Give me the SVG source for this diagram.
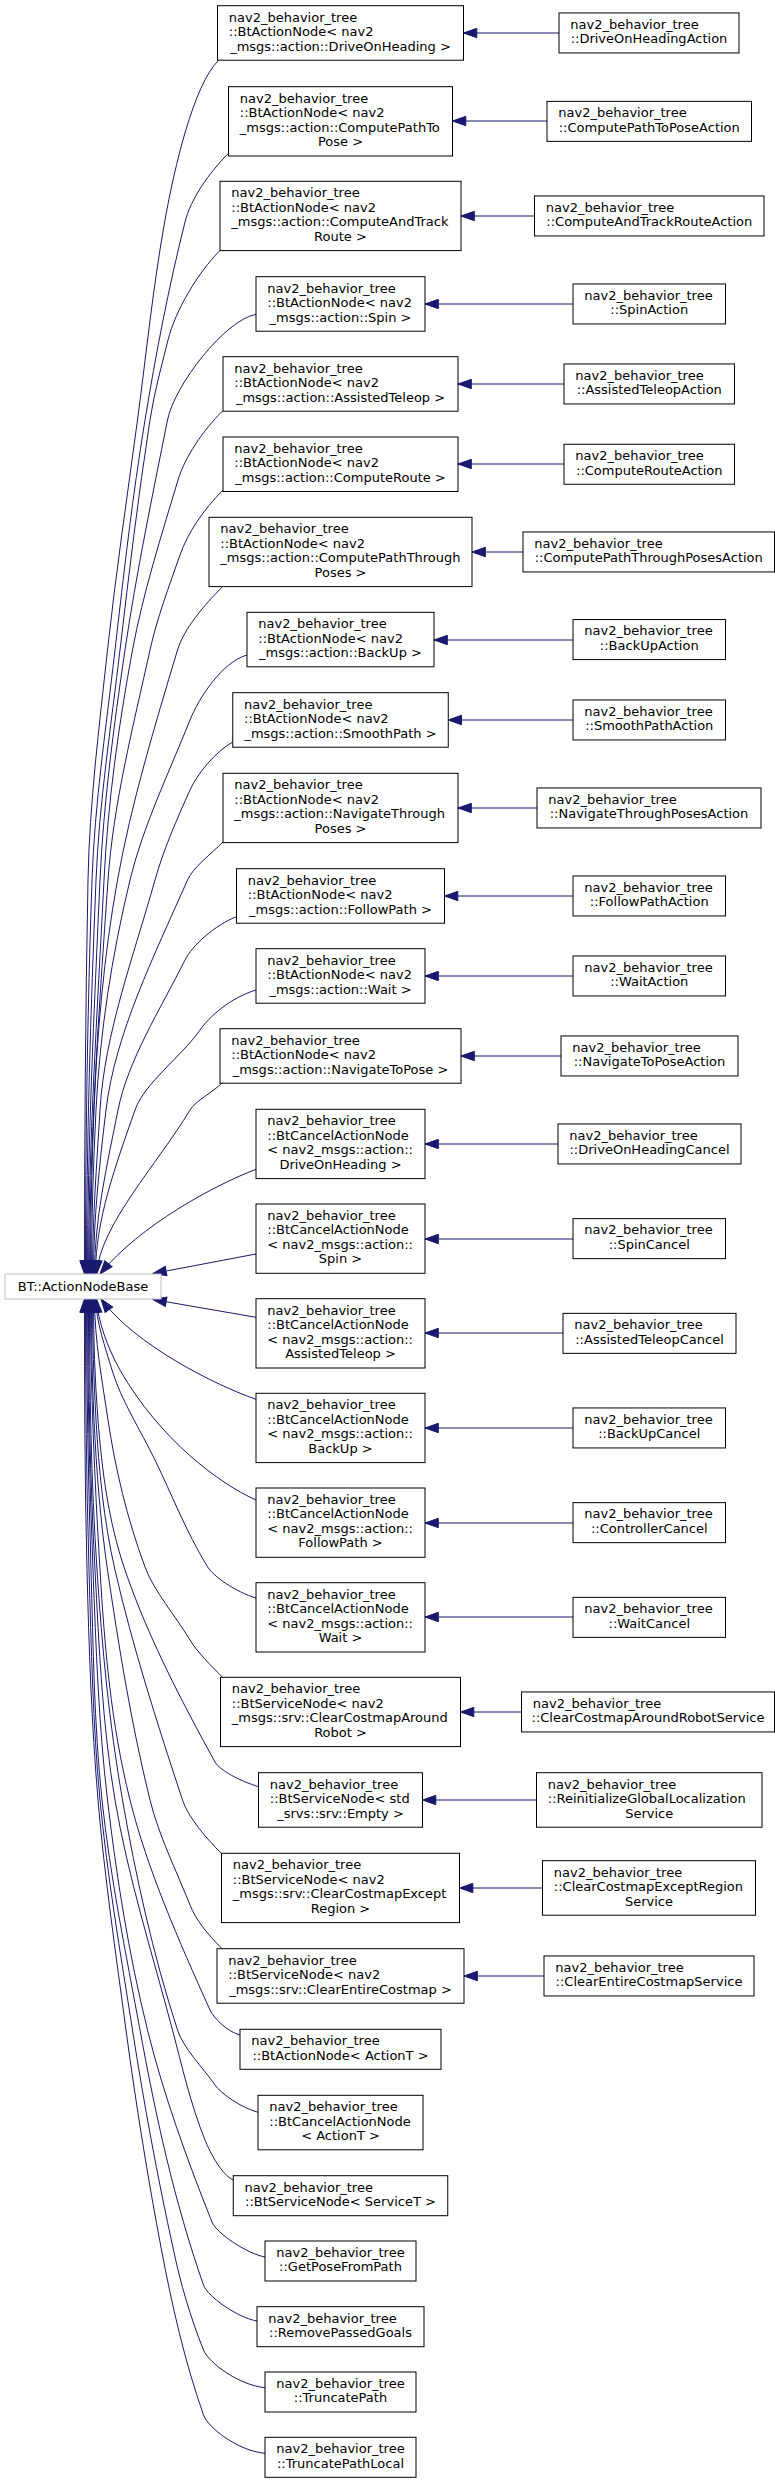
<svg xmlns="http://www.w3.org/2000/svg" width="775" height="2483" viewBox="0 0 775 2483">
<style>
.n rect{fill:#fff;stroke:#000;stroke-width:1}
.b rect{fill:#fff;stroke:#bfbfbf;stroke-width:1}
text{font-family:"DejaVu Sans","Liberation Sans",sans-serif;font-size:13px;fill:#000}
.c{text-anchor:middle}
#edges path{fill:none;stroke:#191970;stroke-width:1;marker-end:url(#ah)}
</style>
<defs>
<marker id="ah" markerUnits="userSpaceOnUse" orient="auto" markerWidth="14" markerHeight="10" refX="0" refY="0" overflow="visible">
<path d="M0,0 L-13.3,-4.7 L-13.3,4.7 Z" fill="#191970" stroke="#191970" stroke-width="1"/>
</marker>
</defs>
<rect width="775" height="2483" fill="#fff"/>
<g id="edges">
<path d="M559,33 L463.5,33"/>
<path d="M547,121 L452.5,121"/>
<path d="M534.5,216 L461,216"/>
<path d="M573,304 L425,304"/>
<path d="M564,384 L458,384"/>
<path d="M564,464 L458,464"/>
<path d="M523,552 L472,552"/>
<path d="M573,640 L434,640"/>
<path d="M573,720 L448.25,720"/>
<path d="M537,808 L458,808"/>
<path d="M573,896 L444.5,896"/>
<path d="M573,976 L425,976"/>
<path d="M561,1056 L461,1056"/>
<path d="M558,1144 L425,1144"/>
<path d="M573,1239 L425,1239"/>
<path d="M563,1333 L425,1333"/>
<path d="M573,1428 L425,1428"/>
<path d="M573,1523 L425,1523"/>
<path d="M573,1617 L425,1617"/>
<path d="M521.5,1712 L460.5,1712"/>
<path d="M536.5,1800 L422.5,1800"/>
<path d="M542.5,1888 L459.5,1888"/>
<path d="M544,1976 L464,1976"/>
<path d="M218.5,60.3 C193.5,85.3 174.6,166.8 165,220 C153,286.7 146.4,353.3 137.5,420 C127.2,496.7 115.8,573.3 107.5,650 C99.2,726.7 89.5,803.3 88,880 C85.4,1011.3 84.5,1142.7 84.5,1274"/>
<path d="M228.5,153.3 C208.5,173.3 190.7,199.1 185,222 C168.5,288 155.8,354 145,420 C132.4,496.7 123.8,573.3 115,650 C106.2,726.7 94.7,803.3 92,880 C87.4,1011.3 85.5,1142.7 85.5,1274"/>
<path d="M220,250.5 C198,272.5 175.5,310.2 168,340 C161.3,366.7 154.1,393.3 150,420 C138.1,496.7 129,573.3 120,650 C111,726.7 99.1,803.3 96,880 C90.7,1011.3 86.5,1142.7 86.5,1274"/>
<path d="M256,314.3 C225,320 174.5,385 167.5,420 C152.2,496.7 136.3,573.3 125,650 C113.7,726.7 103.5,803.3 100,880 C94.1,1011.3 87.5,1142.7 87.5,1274"/>
<path d="M223,410.5 C203,430.5 185,456.8 178,480 C161,536.7 143,593.3 132.5,650 C118.3,726.7 107.8,803.3 104,880 C97.4,1011.3 88.5,1142.7 88.5,1274"/>
<path d="M223,490 C203,510 187.6,533.3 180,555 C168.9,586.7 157,618.3 150,650 C133.1,726.7 113.4,803.3 108,880 C98.8,1011.3 89.5,1142.7 89.5,1274"/>
<path d="M222.5,586.7 C204.5,604.7 183.8,628.9 177.5,650 C154.5,726.7 131.3,803.3 117.5,880 C103.7,956.7 97.1,1033.3 94,1110 C91.8,1164.7 90.5,1219.3 90.5,1274"/>
<path d="M247,655 C222,662 198.7,698.3 190,720 C168.7,773.3 142.8,826.7 130,880 C111.6,956.7 99.8,1033.3 96,1110 C93.3,1164.7 91.5,1219.3 91.5,1274"/>
<path d="M232.75,742 C215,752 197.2,774 190,790 C176.5,820 163.4,850 155,880 C133.5,956.7 104.6,1033.3 100,1110 C96.7,1164.7 92.5,1219.3 92.5,1274"/>
<path d="M223,842 C211,854 193.1,867.3 187.5,880 C153.8,956.7 115.2,1033.3 106,1110 C99.4,1164.7 93.5,1219.3 93.5,1274"/>
<path d="M236.5,916.7 C215,925 192.2,945.6 185,960 C160,1010 128,1060 118,1110 C107.1,1164.7 94.5,1219.3 94.5,1274"/>
<path d="M256,990 C230,998 209.3,1016.7 200,1030 C181.3,1056.7 144.3,1083.3 135,1110 C115.9,1164.7 95.5,1219.3 95.5,1274"/>
<path d="M222,1083 C213,1092 195.4,1101 190,1110 C157.2,1164.7 100,1225 96.5,1274"/>
<path d="M256,1169.3 C215,1185 140,1225 100,1274"/>
<path d="M256,1254 L153,1273.5"/>
<path d="M256,1317.3 L153,1299.5"/>
<path d="M256,1399.3 C215,1385 135,1345 101,1299"/>
<path d="M256,1500 C220,1484 160,1440 120,1370 C108,1349 97.5,1320 96.5,1299"/>
<path d="M256,1598 C236,1592 213.4,1576.7 207,1566 C185.8,1530.7 172.1,1495.3 155,1460 C140.4,1430 121,1400 112,1370 C104.9,1346.3 96.5,1322.7 95.5,1299"/>
<path d="M222.5,1677.3 C210.5,1665 197.4,1652.3 190,1640 C175.4,1615.7 154,1591.3 145,1567 C126.9,1518 115.4,1469 108,1420 C102,1379.7 94.5,1339.7 94.5,1299"/>
<path d="M258.5,1786.7 C240,1781 219.5,1770.2 215,1762 C179.8,1698 146.8,1634 125,1570 C108,1520 102,1470 98,1420 C94.8,1379.7 93.5,1339.7 93.5,1299"/>
<path d="M221.5,1853.5 C206.5,1838.5 188.4,1817.8 182.5,1800 C157.2,1723.3 132.6,1646.7 115,1570 C103.5,1520 99,1470 96,1420 C93.6,1379.7 92.5,1339.7 92.5,1299"/>
<path d="M222,1948.7 C207,1933.7 195.8,1919.6 190,1905 C176,1870 158.6,1835 150,1800 C131.1,1723.3 118.8,1646.7 107.5,1570 C100.2,1520 96.5,1470 94,1420 C92,1379.7 91.5,1339.7 91.5,1299"/>
<path d="M240,2035 C228,2032 213.7,2018.3 210,2010 C178.5,1940 147.5,1870 130,1800 C110.8,1723.3 104.6,1646.7 100,1570 C94.6,1479.7 90.5,1389.3 90.5,1299"/>
<path d="M258,2112.3 C242,2108 221.4,2094.1 215,2085 C202.2,2066.7 183.5,2048.3 177.5,2030 C152.6,1953.3 135.9,1876.7 122.5,1800 C109.1,1723.3 102,1646.7 97,1570 C91,1479.7 89.5,1389.3 89.5,1299"/>
<path d="M233.25,2180 C222,2175 210.3,2153.3 205,2140 C190.3,2103.3 182.2,2066.7 172.5,2030 C152.2,1953.3 127.9,1876.7 115,1800 C102.1,1723.3 99.2,1646.7 95,1570 C90,1479.7 88.5,1389.3 88.5,1299"/>
<path d="M265,2257 C248,2254 216.7,2233.7 212,2222 C186.4,2158 163.4,2094 147.5,2030 C128.5,1953.3 116.5,1876.7 107.5,1800 C98.5,1723.3 96,1646.7 93,1570 C89.4,1479.7 87.5,1389.3 87.5,1299"/>
<path d="M257,2321 C238.5,2318 207.7,2297 203.5,2285 C173.75,2200 155.6,2115 140,2030 C125.9,1953.3 110.1,1876.7 102,1800 C93.9,1723.3 93.3,1646.7 91,1570 C88.3,1479.7 86.5,1389.3 86.5,1299"/>
<path d="M265,2387.7 C238.5,2385 208.5,2362.6 203.5,2350 C190.2,2316.7 180.5,2283.3 173.5,2250 C157.4,2176.7 143.9,2103.3 132.5,2030 C120.5,1953.3 107.3,1876.7 100,1800 C92.7,1723.3 91.3,1646.7 89,1570 C86.3,1479.7 85.5,1389.3 85.5,1299"/>
<path d="M265,2453.3 C238.5,2451 208,2427.8 203.5,2415 C184.2,2360 172,2305 161.5,2250 C147.6,2176.7 135.8,2103.3 126,2030 C115.8,1953.3 104.5,1876.7 98,1800 C91.5,1723.3 88.9,1646.7 87,1570 C84.7,1479.7 84.5,1389.3 84.5,1299"/>
</g>
<g id="base" class="b"><rect x="5" y="1274" width="156" height="25"/><text class="c" x="83" y="1290.8">BT::ActionNodeBase</text></g>
<g id="a1" class="n"><rect x="217.5" y="5.7" width="246" height="54.5"/><text x="228.8" y="21.5">nav2_behavior_tree</text><text x="228.8" y="36">::BtActionNode&lt; nav2</text><text class="c" x="340.5" y="50.5">_msgs::action::DriveOnHeading &gt;</text></g>
<g id="a2" class="n"><rect x="228.5" y="86.7" width="224" height="69.3"/><text x="239.8" y="102.5">nav2_behavior_tree</text><text x="239.8" y="117">::BtActionNode&lt; nav2</text><text x="239.8" y="131.5">_msgs::action::ComputePathTo</text><text class="c" x="340.5" y="146">Pose &gt;</text></g>
<g id="a3" class="n"><rect x="220" y="181.3" width="241" height="69.3"/><text x="231.3" y="197.1">nav2_behavior_tree</text><text x="231.3" y="211.6">::BtActionNode&lt; nav2</text><text x="231.3" y="226.1">_msgs::action::ComputeAndTrack</text><text class="c" x="340.5" y="240.6">Route &gt;</text></g>
<g id="a4" class="n"><rect x="256" y="276.7" width="169" height="54.5"/><text x="267.3" y="292.5">nav2_behavior_tree</text><text x="267.3" y="307">::BtActionNode&lt; nav2</text><text class="c" x="340.5" y="321.5">_msgs::action::Spin &gt;</text></g>
<g id="a5" class="n"><rect x="223" y="356.7" width="235" height="54.5"/><text x="234.3" y="372.5">nav2_behavior_tree</text><text x="234.3" y="387">::BtActionNode&lt; nav2</text><text class="c" x="340.5" y="401.5">_msgs::action::AssistedTeleop &gt;</text></g>
<g id="a6" class="n"><rect x="223" y="437" width="235" height="54.5"/><text x="234.3" y="452.8">nav2_behavior_tree</text><text x="234.3" y="467.3">::BtActionNode&lt; nav2</text><text class="c" x="340.5" y="481.8">_msgs::action::ComputeRoute &gt;</text></g>
<g id="a7" class="n"><rect x="209" y="517.3" width="263" height="69.3"/><text x="220.3" y="533.1">nav2_behavior_tree</text><text x="220.3" y="547.6">::BtActionNode&lt; nav2</text><text x="220.3" y="562.1">_msgs::action::ComputePathThrough</text><text class="c" x="340.5" y="576.6">Poses &gt;</text></g>
<g id="a8" class="n"><rect x="247" y="612.3" width="187" height="54.5"/><text x="258.3" y="628.1">nav2_behavior_tree</text><text x="258.3" y="642.6">::BtActionNode&lt; nav2</text><text class="c" x="340.5" y="657.1">_msgs::action::BackUp &gt;</text></g>
<g id="a9" class="n"><rect x="232.75" y="692.7" width="215.5" height="54.5"/><text x="244" y="708.5">nav2_behavior_tree</text><text x="244" y="723">::BtActionNode&lt; nav2</text><text class="c" x="340.5" y="737.5">_msgs::action::SmoothPath &gt;</text></g>
<g id="a10" class="n"><rect x="223" y="773.3" width="235" height="69.3"/><text x="234.3" y="789.1">nav2_behavior_tree</text><text x="234.3" y="803.6">::BtActionNode&lt; nav2</text><text x="234.3" y="818.1">_msgs::action::NavigateThrough</text><text class="c" x="340.5" y="832.6">Poses &gt;</text></g>
<g id="a11" class="n"><rect x="236.5" y="868.7" width="208" height="54.5"/><text x="247.8" y="884.5">nav2_behavior_tree</text><text x="247.8" y="899">::BtActionNode&lt; nav2</text><text class="c" x="340.5" y="913.5">_msgs::action::FollowPath &gt;</text></g>
<g id="a12" class="n"><rect x="256" y="948.7" width="169" height="54.5"/><text x="267.3" y="964.5">nav2_behavior_tree</text><text x="267.3" y="979">::BtActionNode&lt; nav2</text><text class="c" x="340.5" y="993.5">_msgs::action::Wait &gt;</text></g>
<g id="a13" class="n"><rect x="220" y="1028.7" width="241" height="54.5"/><text x="231.3" y="1044.5">nav2_behavior_tree</text><text x="231.3" y="1059">::BtActionNode&lt; nav2</text><text class="c" x="340.5" y="1073.5">_msgs::action::NavigateToPose &gt;</text></g>
<g id="a14" class="n"><rect x="256" y="1109.3" width="169" height="69.3"/><text x="267.3" y="1125.1">nav2_behavior_tree</text><text x="267.3" y="1139.6">::BtCancelActionNode</text><text x="267.3" y="1154.1">&lt; nav2_msgs::action::</text><text class="c" x="340.5" y="1168.6">DriveOnHeading &gt;</text></g>
<g id="a15" class="n"><rect x="256" y="1204" width="169" height="69.3"/><text x="267.3" y="1219.8">nav2_behavior_tree</text><text x="267.3" y="1234.3">::BtCancelActionNode</text><text x="267.3" y="1248.8">&lt; nav2_msgs::action::</text><text class="c" x="340.5" y="1263.3">Spin &gt;</text></g>
<g id="a16" class="n"><rect x="256" y="1298.7" width="169" height="69.3"/><text x="267.3" y="1314.5">nav2_behavior_tree</text><text x="267.3" y="1329">::BtCancelActionNode</text><text x="267.3" y="1343.5">&lt; nav2_msgs::action::</text><text class="c" x="340.5" y="1358">AssistedTeleop &gt;</text></g>
<g id="a17" class="n"><rect x="256" y="1393.3" width="169" height="69.3"/><text x="267.3" y="1409.1">nav2_behavior_tree</text><text x="267.3" y="1423.6">::BtCancelActionNode</text><text x="267.3" y="1438.1">&lt; nav2_msgs::action::</text><text class="c" x="340.5" y="1452.6">BackUp &gt;</text></g>
<g id="a18" class="n"><rect x="256" y="1488" width="169" height="69.3"/><text x="267.3" y="1503.8">nav2_behavior_tree</text><text x="267.3" y="1518.3">::BtCancelActionNode</text><text x="267.3" y="1532.8">&lt; nav2_msgs::action::</text><text class="c" x="340.5" y="1547.3">FollowPath &gt;</text></g>
<g id="a19" class="n"><rect x="256" y="1582.7" width="169" height="69.3"/><text x="267.3" y="1598.5">nav2_behavior_tree</text><text x="267.3" y="1613">::BtCancelActionNode</text><text x="267.3" y="1627.5">&lt; nav2_msgs::action::</text><text class="c" x="340.5" y="1642">Wait &gt;</text></g>
<g id="a20" class="n"><rect x="220.5" y="1677.3" width="240" height="69.3"/><text x="231.8" y="1693.1">nav2_behavior_tree</text><text x="231.8" y="1707.6">::BtServiceNode&lt; nav2</text><text x="231.8" y="1722.1">_msgs::srv::ClearCostmapAround</text><text class="c" x="340.5" y="1736.6">Robot &gt;</text></g>
<g id="a21" class="n"><rect x="258.5" y="1772.7" width="164" height="54.5"/><text x="269.8" y="1788.5">nav2_behavior_tree</text><text x="269.8" y="1803">::BtServiceNode&lt; std</text><text class="c" x="340.5" y="1817.5">_srvs::srv::Empty &gt;</text></g>
<g id="a22" class="n"><rect x="221.5" y="1853.3" width="238" height="69.3"/><text x="232.8" y="1869.1">nav2_behavior_tree</text><text x="232.8" y="1883.6">::BtServiceNode&lt; nav2</text><text x="232.8" y="1898.1">_msgs::srv::ClearCostmapExcept</text><text class="c" x="340.5" y="1912.6">Region &gt;</text></g>
<g id="a23" class="n"><rect x="217" y="1948.7" width="247" height="54.5"/><text x="228.3" y="1964.5">nav2_behavior_tree</text><text x="228.3" y="1979">::BtServiceNode&lt; nav2</text><text class="c" x="340.5" y="1993.5">_msgs::srv::ClearEntireCostmap &gt;</text></g>
<g id="a24" class="n"><rect x="240" y="2029.3" width="201" height="40"/><text x="251.3" y="2045.1">nav2_behavior_tree</text><text class="c" x="340.5" y="2059.6">::BtActionNode&lt; ActionT &gt;</text></g>
<g id="a25" class="n"><rect x="258" y="2095.3" width="165" height="54.5"/><text x="269.3" y="2111.1">nav2_behavior_tree</text><text x="269.3" y="2125.6">::BtCancelActionNode</text><text class="c" x="340.5" y="2140.1">&lt; ActionT &gt;</text></g>
<g id="a26" class="n"><rect x="233.25" y="2175.7" width="214.5" height="40"/><text x="244.5" y="2191.5">nav2_behavior_tree</text><text class="c" x="340.5" y="2206">::BtServiceNode&lt; ServiceT &gt;</text></g>
<g id="a27" class="n"><rect x="265" y="2241" width="151" height="40"/><text x="276.3" y="2256.8">nav2_behavior_tree</text><text class="c" x="340.5" y="2271.3">::GetPoseFromPath</text></g>
<g id="a28" class="n"><rect x="257" y="2306.7" width="167" height="40"/><text x="268.3" y="2322.5">nav2_behavior_tree</text><text class="c" x="340.5" y="2337">::RemovePassedGoals</text></g>
<g id="a29" class="n"><rect x="265" y="2372" width="151" height="40"/><text x="276.3" y="2387.8">nav2_behavior_tree</text><text class="c" x="340.5" y="2402.3">::TruncatePath</text></g>
<g id="a30" class="n"><rect x="265" y="2437.3" width="151" height="40"/><text x="276.3" y="2453.1">nav2_behavior_tree</text><text class="c" x="340.5" y="2467.6">::TruncatePathLocal</text></g>
<g id="r1" class="n"><rect x="559" y="12.95" width="180" height="40"/><text x="570.3" y="28.75">nav2_behavior_tree</text><text class="c" x="649" y="43.25">::DriveOnHeadingAction</text></g>
<g id="r2" class="n"><rect x="547" y="101.35" width="204.5" height="40"/><text x="558.3" y="117.15">nav2_behavior_tree</text><text class="c" x="649.25" y="131.65">::ComputePathToPoseAction</text></g>
<g id="r3" class="n"><rect x="534.5" y="195.95" width="229.5" height="40"/><text x="545.8" y="211.75">nav2_behavior_tree</text><text class="c" x="649.25" y="226.25">::ComputeAndTrackRouteAction</text></g>
<g id="r4" class="n"><rect x="573" y="283.95" width="152.5" height="40"/><text x="584.3" y="299.75">nav2_behavior_tree</text><text class="c" x="649.25" y="314.25">::SpinAction</text></g>
<g id="r5" class="n"><rect x="564" y="363.95" width="170.5" height="40"/><text x="575.3" y="379.75">nav2_behavior_tree</text><text class="c" x="649.25" y="394.25">::AssistedTeleopAction</text></g>
<g id="r6" class="n"><rect x="564" y="444.25" width="170.5" height="40"/><text x="575.3" y="460.05">nav2_behavior_tree</text><text class="c" x="649.25" y="474.55">::ComputeRouteAction</text></g>
<g id="r7" class="n"><rect x="523" y="531.95" width="251.5" height="40"/><text x="534.3" y="547.75">nav2_behavior_tree</text><text class="c" x="648.75" y="562.25">::ComputePathThroughPosesAction</text></g>
<g id="r8" class="n"><rect x="573" y="619.55" width="152.5" height="40"/><text x="584.3" y="635.35">nav2_behavior_tree</text><text class="c" x="649.25" y="649.85">::BackUpAction</text></g>
<g id="r9" class="n"><rect x="573" y="699.95" width="152.5" height="40"/><text x="584.3" y="715.75">nav2_behavior_tree</text><text class="c" x="649.25" y="730.25">::SmoothPathAction</text></g>
<g id="r10" class="n"><rect x="537" y="787.95" width="224" height="40"/><text x="548.3" y="803.75">nav2_behavior_tree</text><text class="c" x="649" y="818.25">::NavigateThroughPosesAction</text></g>
<g id="r11" class="n"><rect x="573" y="875.95" width="152.5" height="40"/><text x="584.3" y="891.75">nav2_behavior_tree</text><text class="c" x="649.25" y="906.25">::FollowPathAction</text></g>
<g id="r12" class="n"><rect x="573" y="955.95" width="152.5" height="40"/><text x="584.3" y="971.75">nav2_behavior_tree</text><text class="c" x="649.25" y="986.25">::WaitAction</text></g>
<g id="r13" class="n"><rect x="561" y="1035.95" width="177" height="40"/><text x="572.3" y="1051.75">nav2_behavior_tree</text><text class="c" x="649.5" y="1066.25">::NavigateToPoseAction</text></g>
<g id="r14" class="n"><rect x="558" y="1123.95" width="183" height="40"/><text x="569.3" y="1139.75">nav2_behavior_tree</text><text class="c" x="649.5" y="1154.25">::DriveOnHeadingCancel</text></g>
<g id="r15" class="n"><rect x="573" y="1218.65" width="152.5" height="40"/><text x="584.3" y="1234.45">nav2_behavior_tree</text><text class="c" x="649.25" y="1248.95">::SpinCancel</text></g>
<g id="r16" class="n"><rect x="563" y="1313.35" width="173" height="40"/><text x="574.3" y="1329.15">nav2_behavior_tree</text><text class="c" x="649.5" y="1343.65">::AssistedTeleopCancel</text></g>
<g id="r17" class="n"><rect x="573" y="1407.95" width="152.5" height="40"/><text x="584.3" y="1423.75">nav2_behavior_tree</text><text class="c" x="649.25" y="1438.25">::BackUpCancel</text></g>
<g id="r18" class="n"><rect x="573" y="1502.65" width="152.5" height="40"/><text x="584.3" y="1518.45">nav2_behavior_tree</text><text class="c" x="649.25" y="1532.95">::ControllerCancel</text></g>
<g id="r19" class="n"><rect x="573" y="1597.35" width="152.5" height="40"/><text x="584.3" y="1613.15">nav2_behavior_tree</text><text class="c" x="649.25" y="1627.65">::WaitCancel</text></g>
<g id="r20" class="n"><rect x="521.5" y="1691.95" width="253" height="40"/><text x="532.8" y="1707.75">nav2_behavior_tree</text><text class="c" x="648" y="1722.25">::ClearCostmapAroundRobotService</text></g>
<g id="r21" class="n"><rect x="536.5" y="1772.7" width="225.5" height="54.5"/><text x="547.8" y="1788.5">nav2_behavior_tree</text><text x="547.8" y="1803">::ReinitializeGlobalLocalization</text><text class="c" x="649.25" y="1817.5">Service</text></g>
<g id="r22" class="n"><rect x="542.5" y="1860.7" width="213" height="54.5"/><text x="553.8" y="1876.5">nav2_behavior_tree</text><text x="553.8" y="1891">::ClearCostmapExceptRegion</text><text class="c" x="649" y="1905.5">Service</text></g>
<g id="r23" class="n"><rect x="544" y="1955.95" width="210" height="40"/><text x="555.3" y="1971.75">nav2_behavior_tree</text><text class="c" x="649" y="1986.25">::ClearEntireCostmapService</text></g>
</svg>
